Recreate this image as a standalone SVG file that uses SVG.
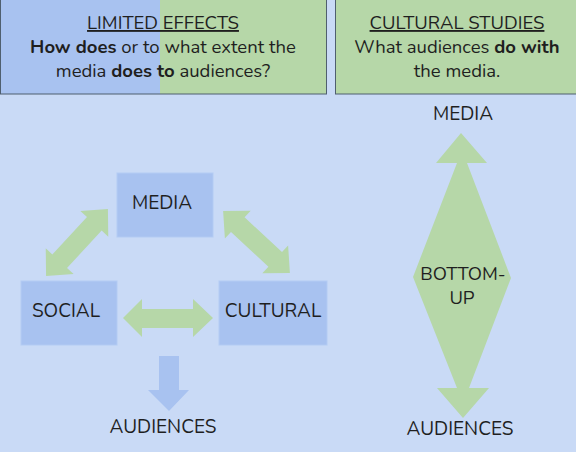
<svg xmlns="http://www.w3.org/2000/svg" width="576" height="452" viewBox="0 0 576 452">
<style>
text{font-family:"Nunito","Lato","Noto Sans",sans-serif;fill:#1f1f1f;font-size:18.5px;text-anchor:middle}
.lbl{font-size:19px}
.b{font-weight:bold}
.green{fill:#b6d7a8}
.blue{fill:#a8c2f0}
.node{fill:#a8c2f0;stroke:#b3cbf3;stroke-width:1}
</style>
<defs>
<polygon id="dbl" points="-45.5,0 -25.5,-19 -25.5,-10 25.5,-10 25.5,-19 45.5,0 25.5,19 25.5,10 -25.5,10 -25.5,19"/>
</defs>
<rect width="576" height="452" fill="#c9daf6"/>
<g id="limited-effects">
<rect x="0" y="0" width="160" height="94" fill="#a8c2f0"/>
<rect x="160" y="0" width="166" height="94" fill="#b6d7a8"/>
<rect x="0.5" y="-1" width="326" height="95" fill="none" stroke="#4f5f6f" stroke-width="1"/>
<text x="163" y="29" text-decoration="underline">LIMITED EFFECTS</text>
<text x="163" y="53"><tspan class="b">How does</tspan> or to what extent the</text>
<text x="163" y="77">media <tspan class="b">does to</tspan> audiences?</text>
</g>
<g id="cultural-studies">
<rect x="335.5" y="-1" width="245" height="95" fill="#b6d7a8" stroke="#4f5f6f" stroke-width="1"/>
<text x="457" y="29" text-decoration="underline">CULTURAL STUDIES</text>
<text x="457" y="53">What audiences <tspan class="b">do with</tspan></text>
<text x="457" y="77">the media.</text>
</g>
<g id="media">
<rect class="node" x="117" y="173" width="96" height="64"/>
<text class="lbl" x="162" y="209">MEDIA</text>
</g>
<g id="social">
<rect class="node" x="21" y="281" width="96" height="64"/>
<text class="lbl" x="66" y="317">SOCIAL</text>
</g>
<g id="cultural">
<rect class="node" x="219" y="281" width="108" height="64"/>
<text class="lbl" x="273" y="317">CULTURAL</text>
</g>
<g id="audiences-left">
<text class="lbl" x="163" y="433">AUDIENCES</text>
</g>
<g id="media-right">
<text class="lbl" x="463" y="120">MEDIA</text>
</g>
<g id="audiences-right">
<text class="lbl" x="460" y="435">AUDIENCES</text>
</g>
<g id="connectors">
<use href="#dbl" class="green" transform="translate(77,242.5) rotate(-47.2)"/>
<use href="#dbl" class="green" transform="translate(256.5,242) rotate(42.8)"/>
<polygon class="green" points="123,318 142,299 142,309 193,309 193,299 213,318 193,337 193,328 142,328 142,337"/>
<polygon class="blue" points="159,356 179,356 179,390 189,390 169,411 148,390 159,390"/>
<polygon class="green" points="461,133 487,163 467,163 511,278 469,388 489,388 463,418 437,388 457,388 413,277 457,163 436,163"/>
</g>
<g id="bottom-up-label">
<text x="463" y="280">BOTTOM-</text>
<text x="462" y="304">UP</text>
</g>
</svg>
